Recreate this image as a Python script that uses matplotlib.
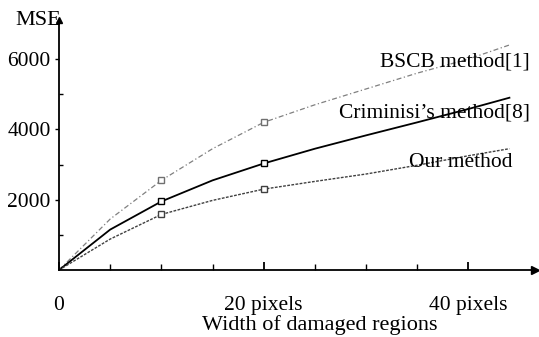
import matplotlib.pyplot as plt
from matplotlib.ticker import FixedLocator, FixedFormatter

# values
width = [0, 5, 10, 15, 20, 25, 30, 35, 40, 44]
mse_bscb = [0, 1450, 2550, 3450, 4200, 4700, 5150, 5600, 6000, 6400]
mse_crim = [0, 1150, 1950, 2550, 3030, 3450, 3830, 4200, 4580, 4900]
mse_ours = [0, 880, 1580, 1980, 2300, 2520, 2730, 2980, 3250, 3450]
mark_idx = [2, 4]  # squares drawn at 10 and 20

x_ticks = [0, 20, 40]
x_labels = ['0', '20 pixels', '40 pixels']
y_ticks = [2000, 4000, 6000]

plt.rcParams['font.family'] = ['Liberation Serif', 'DejaVu Serif']

fig = plt.figure(figsize=(5.39, 3.37), dpi=100)
ax = fig.add_axes([0.1095, 0.1988, 0.8831, 0.7418])

ax.plot(width, mse_bscb, color='#808080', linestyle=(0, (4, 2, 1, 2)), linewidth=0.9,
        marker='s', markevery=mark_idx, markersize=4.5, markerfacecolor='white', markeredgecolor='#707070')
ax.plot(width, mse_crim, color='black', linewidth=1.3,
        marker='s', markevery=mark_idx, markersize=4.5, markerfacecolor='white', markeredgecolor='black')
ax.plot(width, mse_ours, color='#404040', linestyle=(0, (2, 1)), linewidth=1.0,
        marker='s', markevery=mark_idx, markersize=4.5, markerfacecolor='white', markeredgecolor='#404040')

ax.set_xlim(0, 46.5)
ax.set_ylim(0, 7110)
for s in ['top', 'right']:
    ax.spines[s].set_visible(False)
for s in ['left', 'bottom']:
    ax.spines[s].set_linewidth(1.3)

# arrow heads on the axes
ax.plot(1, 0, '>k', markersize=6, transform=ax.transAxes, clip_on=False)
ax.plot(0, 1, '^k', markersize=5, transform=ax.transAxes, clip_on=False)

ax.xaxis.set_major_locator(FixedLocator(x_ticks))
ax.xaxis.set_major_formatter(FixedFormatter(x_labels))
ax.xaxis.set_minor_locator(FixedLocator([5, 10, 15, 25, 30, 35]))
ax.set_yticks(y_ticks)
ax.yaxis.set_minor_locator(FixedLocator([1000, 3000, 5000]))
ax.tick_params(axis='x', which='major', direction='in', length=6, width=1.3, pad=19, labelsize=15.5)
ax.tick_params(axis='x', which='minor', direction='in', length=4, width=1)
ax.tick_params(axis='y', which='major', direction='out', length=3, width=1, pad=3, labelsize=15.5)
ax.tick_params(axis='y', which='minor', direction='in', length=3, width=1)

ax.text(0.005, 1.0, 'MSE', transform=ax.transAxes, ha='right', va='center', fontsize=16)
ax.text(0.989, 0.832, 'BSCB method[1]', transform=ax.transAxes, ha='right', va='center', fontsize=15.5)
ax.text(0.989, 0.628, 'Criminisi\u2019s method[8]', transform=ax.transAxes, ha='right', va='center', fontsize=15.5)
ax.text(0.952, 0.432, 'Our method', transform=ax.transAxes, ha='right', va='center', fontsize=15.5)

fig.text(320 / 539, 1 - 325 / 337, 'Width of damaged regions', ha='center', va='center', fontsize=16)

plt.savefig('out.png', dpi=100)
